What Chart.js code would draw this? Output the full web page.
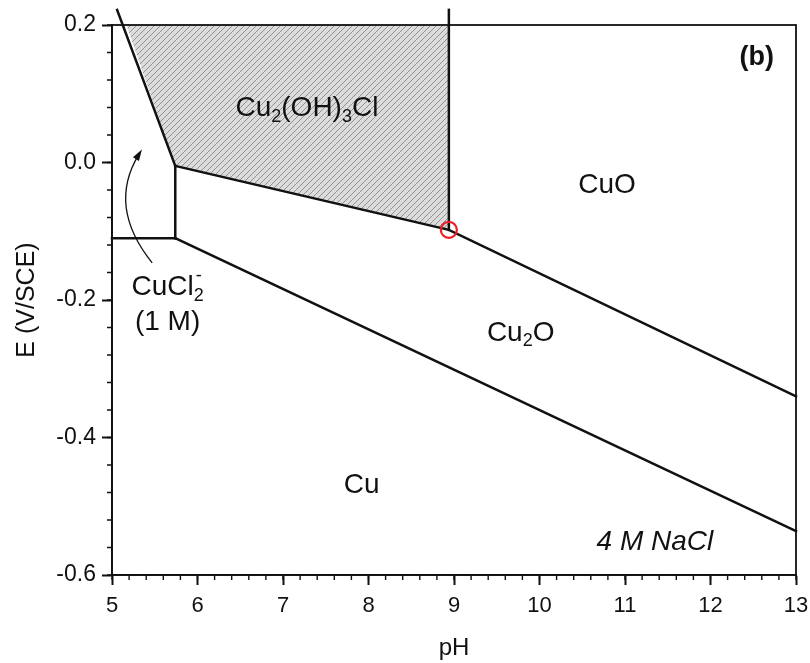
<!DOCTYPE html>
<html>
<head>
<meta charset="utf-8">
<script src="https://cdn.jsdelivr.net/npm/chart.js@4/dist/chart.umd.min.js"></script>
<style>
  html, body { margin: 0; padding: 0; background: #fff; }
  #wrap { width: 810px; height: 663px; position: relative; }
</style>
</head>
<body>
<div id="wrap"><canvas id="pourbaix"></canvas></div>
<script>
// boundary lines (pH, E in V/SCE)
const steepPH = [5.06, 5.74];
const steepE = [0.222, -0.005];
const cuclVertPH = [5.74, 5.74];
const cuclVertE = [-0.005, -0.11];
const cuclHorizPH = [5.0, 5.74];
const cuclHorizE = [-0.11, -0.11];
const upperPH = [5.74, 8.94, 13.0];
const upperE = [-0.005, -0.098, -0.34];
const atacVertPH = [8.94, 8.94];
const atacVertE = [-0.098, 0.222];
const lowerPH = [5.74, 13.0];
const lowerE = [-0.11, -0.536];

// lower edge of the hatched Cu2(OH)3Cl field (filled up to E = 0.2)
const hatchPH = [5.17, 5.74, 8.94];
const hatchE = [0.2, -0.005, -0.098];

// marked triple point
const markPH = [8.94];
const markE = [-0.098];

// region labels
const labelPH = [7.28, 10.79, 9.78, 7.92];
const labelE = [0.079, -0.033, -0.248, -0.469];
const labelText = [
  [['Cu'], ['2', 'sub'], ['(OH)'], ['3', 'sub'], ['Cl']],
  [['CuO']],
  [['Cu'], ['2', 'sub'], ['O']],
  [['Cu']]
];

const xTicks = [5, 6, 7, 8, 9, 10, 11, 12, 13];
const yTicks = [-0.6, -0.4, -0.2, 0.0, 0.2];

const FONT = '"Liberation Sans", Arial, sans-serif';

function pts(xs, ys) {
  return xs.map((x, i) => ({ x: x, y: ys[i] }));
}

function hatchPattern() {
  const c = document.createElement('canvas');
  c.width = 6; c.height = 6;
  const g = c.getContext('2d');
  g.fillStyle = '#dcdcdc';
  g.fillRect(0, 0, 6, 6);
  g.strokeStyle = '#888';
  g.lineWidth = 0.9;
  g.beginPath();
  g.moveTo(0, 6); g.lineTo(6, 0);
  g.moveTo(-1, 1); g.lineTo(1, -1);
  g.moveTo(5, 7); g.lineTo(7, 5);
  g.stroke();
  return g.createPattern(c, 'repeat');
}

function lineSet(xs, ys) {
  return {
    data: pts(xs, ys),
    showLine: true,
    borderColor: '#111',
    borderWidth: 2.5,
    pointRadius: 0,
    fill: false,
    clip: false,
    borderCapStyle: 'square'
  };
}

function drawRich(ctx, cx, cy, parts, size, style) {
  const big = (style || '') + ' ' + size + 'px ' + FONT;
  const small = (style || '') + ' ' + Math.round(size * 0.65) + 'px ' + FONT;
  let w = 0;
  parts.forEach(p => {
    ctx.font = p[1] ? small : big;
    p.w = ctx.measureText(p[0]).width;
    w += p.w;
  });
  let x = cx - w / 2;
  ctx.textAlign = 'left';
  ctx.textBaseline = 'middle';
  parts.forEach(p => {
    ctx.font = p[1] ? small : big;
    ctx.fillText(p[0], x, p[1] === 'sub' ? cy + size * 0.3 : cy);
    x += p.w;
  });
}

const decorPlugin = {
  id: 'decor',
  afterDatasetsDraw(chart) {
    const ctx = chart.ctx;
    const a = chart.chartArea;
    const xs = chart.scales.x, ys = chart.scales.y;
    ctx.save();
    // frame
    ctx.strokeStyle = '#111';
    ctx.lineWidth = 1.8;
    ctx.strokeRect(a.left, a.top, a.right - a.left, a.bottom - a.top);
    // minor ticks
    ctx.lineWidth = 1.4;
    ctx.beginPath();
    for (let v = 5; v <= 13.001; v += 0.2) {
      const px = xs.getPixelForValue(v);
      ctx.moveTo(px, a.bottom); ctx.lineTo(px, a.bottom + 5);
    }
    for (let v = -0.6; v <= 0.2001; v += 0.04) {
      const py = ys.getPixelForValue(v);
      ctx.moveTo(a.left - 5, py); ctx.lineTo(a.left, py);
    }
    ctx.stroke();

    ctx.fillStyle = '#111';
    labelText.forEach((parts, i) => {
      drawRich(ctx, xs.getPixelForValue(labelPH[i]), ys.getPixelForValue(labelE[i]), parts, 28, '');
    });
    drawRich(ctx, xs.getPixelForValue(11.35), ys.getPixelForValue(-0.553), [['4 M NaCl']], 28, 'italic');
    drawRich(ctx, xs.getPixelForValue(12.54), ys.getPixelForValue(0.153), [['(b)']], 27, 'bold');

    // CuCl2- with stacked super/subscript
    const cx = xs.getPixelForValue(5.65), cy = ys.getPixelForValue(-0.181);
    ctx.font = '28px ' + FONT;
    const w1 = ctx.measureText('CuCl').width;
    ctx.font = '18px ' + FONT;
    const w2 = ctx.measureText('2').width;
    let x0 = cx - (w1 + w2) / 2;
    ctx.textAlign = 'left';
    ctx.textBaseline = 'middle';
    ctx.font = '28px ' + FONT;
    ctx.fillText('CuCl', x0, cy);
    ctx.font = '18px ' + FONT;
    ctx.fillText('2', x0 + w1, cy + 9);
    ctx.fillText('-', x0 + w1 + 2, cy - 11);
    drawRich(ctx, cx, ys.getPixelForValue(-0.232), [['(1 M)']], 28, '');

    // curved arrow
    const sx = xs.getPixelForValue(5.47), sy = ys.getPixelForValue(-0.146);
    const qx = xs.getPixelForValue(4.94), qy = ys.getPixelForValue(-0.064);
    const ex = xs.getPixelForValue(5.35), ey = ys.getPixelForValue(0.019);
    ctx.lineWidth = 1.3;
    ctx.beginPath();
    ctx.moveTo(sx, sy);
    ctx.quadraticCurveTo(qx, qy, ex - 3, ey + 5);
    ctx.stroke();
    const ang = Math.atan2(ey - qy, ex - qx);
    ctx.beginPath();
    ctx.moveTo(ex, ey);
    ctx.lineTo(ex - 12 * Math.cos(ang - 0.3), ey - 12 * Math.sin(ang - 0.3));
    ctx.lineTo(ex - 12 * Math.cos(ang + 0.3), ey - 12 * Math.sin(ang + 0.3));
    ctx.closePath();
    ctx.fill();
    ctx.restore();
  }
};

new Chart(document.getElementById('pourbaix'), {
  type: 'scatter',
  data: {
    datasets: [
      {
        data: pts(hatchPH, hatchE),
        order: 5,
        showLine: true,
        borderWidth: 0,
        borderColor: 'rgba(0,0,0,0)',
        pointRadius: 0,
        fill: 'end',
        backgroundColor: hatchPattern()
      },
      lineSet(steepPH, steepE),
      lineSet(cuclVertPH, cuclVertE),
      lineSet(cuclHorizPH, cuclHorizE),
      lineSet(upperPH, upperE),
      lineSet(atacVertPH, atacVertE),
      lineSet(lowerPH, lowerE),
      {
        data: pts(markPH, markE),
        order: -1,
        pointRadius: 8,
        pointBorderWidth: 2.2,
        pointBorderColor: '#ee1c25',
        pointBackgroundColor: 'rgba(0,0,0,0)',
        clip: false
      }
    ]
  },
  options: {
    responsive: true,
    maintainAspectRatio: false,
    animation: false,
    layout: { padding: { top: 25, right: 14, left: 0, bottom: 0 } },
    plugins: { legend: { display: false }, tooltip: { enabled: false } },
    scales: {
      x: {
        type: 'linear', min: 5, max: 13,
        afterFit: s => { s.height = 88; s.paddingLeft = 0; s.paddingRight = 0; },
        afterBuildTicks: s => { s.ticks = xTicks.map(v => ({ value: v })); },
        ticks: { color: '#111', font: { family: FONT, size: 22 }, padding: 8, maxRotation: 0 },
        grid: { drawOnChartArea: false, tickLength: 10, color: '#111', tickWidth: 2 },
        border: { color: '#111', width: 1.8 },
        title: { display: true, text: 'pH', color: '#111', font: { family: FONT, size: 24 }, padding: { top: 0, bottom: 0 } }
      },
      y: {
        type: 'linear', min: -0.6, max: 0.2,
        afterFit: s => { s.width = 112; s.paddingTop = 0; s.paddingBottom = 0; },
        afterBuildTicks: s => { s.ticks = yTicks.map(v => ({ value: v })); },
        ticks: {
          color: '#111', font: { family: FONT, size: 23 }, padding: 6,
          callback: v => Math.abs(v) < 1e-9 ? '0.0' : Number(v).toFixed(1)
        },
        grid: { drawOnChartArea: false, tickLength: 10, color: '#111', tickWidth: 2 },
        border: { color: '#111', width: 1.8 },
        title: { display: true, text: 'E (V/SCE)', color: '#111', font: { family: FONT, size: 25 }, padding: { top: 12, bottom: 0 } }
      }
    }
  },
  plugins: [decorPlugin]
});
</script>
</body>
</html>
